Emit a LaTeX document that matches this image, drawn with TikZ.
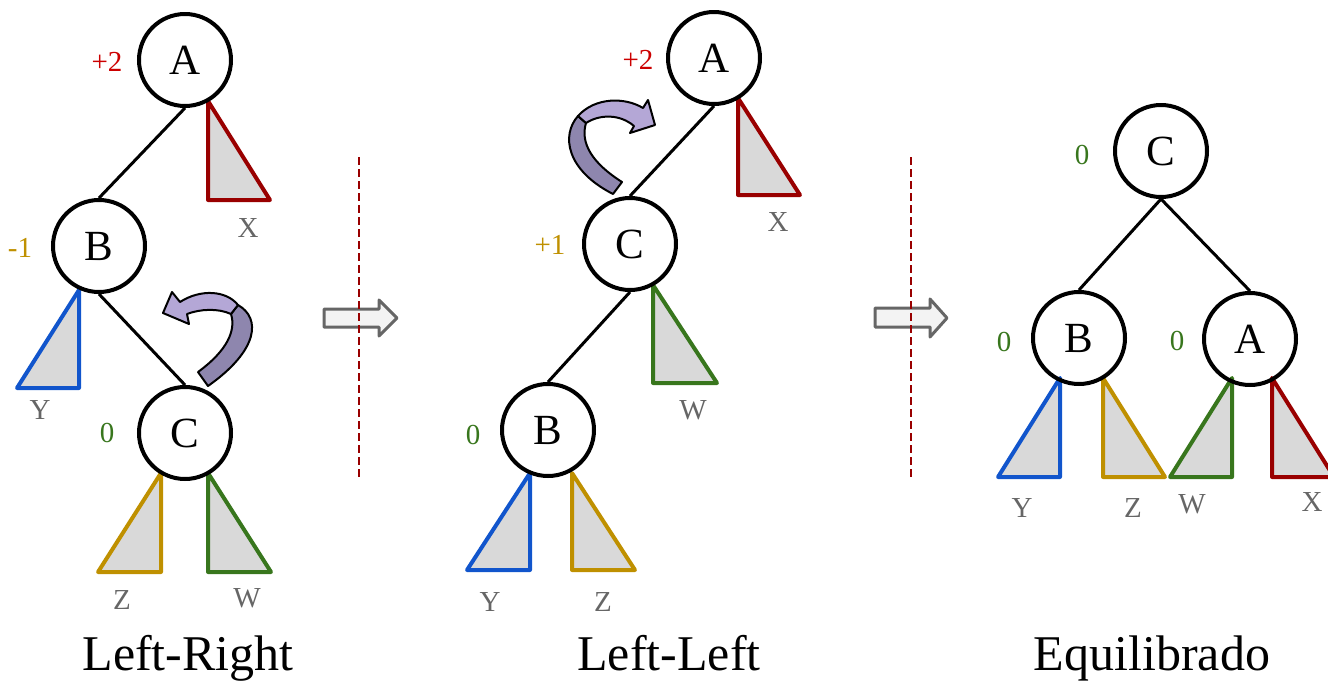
\documentclass[tikz,border=0pt]{standalone}
\usepackage{fontspec}
\setmainfont{Liberation Serif}
\definecolor{triRed}{HTML}{990000}
\definecolor{balRed}{HTML}{CC0000}
\definecolor{gold}{HTML}{BF9000}
\definecolor{grn}{HTML}{38761D}
\definecolor{blu}{HTML}{1155CC}
\definecolor{triFill}{HTML}{D9D9D9}
\definecolor{labGray}{HTML}{666666}
\definecolor{arrFill}{HTML}{F3F3F3}
\definecolor{arrGray}{HTML}{666666}
\definecolor{sepRed}{HTML}{990000}
\definecolor{purpL}{HTML}{B4A7D6}
\definecolor{purpD}{HTML}{8E86AE}
\begin{document}
\begin{tikzpicture}[x=0.5pt,y=-0.5pt,
  tnode/.style={circle,draw=black,line width=2pt,minimum size=46pt,inner sep=0pt,font=\fontsize{21.5}{25}\selectfont},
  link/.style={line width=1.5pt},
  tri/.style={line width=2pt,line join=round,fill=triFill},
  balfac/.style={inner sep=0pt,font=\fontsize{14.5}{17}\selectfont},
  sublabel/.style={inner sep=0pt,text=labGray,font=\fontsize{14.5}{17}\selectfont},
  captxt/.style={inner sep=0pt,anchor=base,font=\fontsize{25}{30}\selectfont},
  blockarrow/.style={draw=arrGray,fill=arrFill,line width=1.5pt,line join=round},
  divider/.style={draw=sepRed,line width=1pt,dash pattern=on 4pt off 2pt},
  curvelight/.style={fill=purpL,draw=black,line width=1pt,line join=round},
  curvedark/.style={fill=purpD,draw=black,line width=1pt,line join=round}
]
\useasboundingbox (0,0) rectangle (1328,681);

% ---------- Left tree (Left-Right) ----------
\draw[tri,draw=triRed] (208,101) -- (208,200) -- (270,200) -- cycle;
\draw[tri,draw=blu] (79,290) -- (17,388) -- (79,388) -- cycle;
\draw[tri,draw=gold] (161,473) -- (98,572) -- (161,572) -- cycle;
\draw[tri,draw=grn] (208,473) -- (208,572) -- (271,572) -- cycle;

\node[tnode] (A1) at (185,60) {A};
\node[tnode] (B1) at (99,246) {B};
\node[tnode] (C1) at (185,433) {C};
\draw[link] (A1.south) -- (B1.north);
\draw[link] (B1.south) -- (C1.north);

\node[balfac,text=balRed] (bA1) at (107,62) {+2};
\node[balfac,text=gold] (bB1) at (20,248) {-1};
\node[balfac,text=grn] (bC1) at (107,433) {0};
\node[sublabel] (X1) at (248,228) {X};
\node[sublabel] (Y1) at (40,410) {Y};
\node[sublabel] (Z1) at (122,600) {Z};
\node[sublabel] (W1) at (247,598) {W};

\draw[curvedark] (238,305) .. controls (261,318) and (259,350) .. (208,386) -- (198,372) .. controls (228,350) and (236,330) .. (231,314) -- cycle;
\draw[curvelight] (163,313) -- (172,292) -- (180,302) .. controls (200,289) and (226,290) .. (238,305) -- (231,314) .. controls (218,308) and (200,309) .. (187,314) -- (189,324) -- cycle;

% ---------- Middle tree (Left-Left) ----------
\draw[tri,draw=triRed] (738,98) -- (738,195) -- (800,195) -- cycle;
\draw[tri,draw=grn] (653,285) -- (653,383) -- (717,383) -- cycle;
\draw[tri,draw=blu] (530,473) -- (467,570) -- (530,570) -- cycle;
\draw[tri,draw=gold] (572,473) -- (572,570) -- (635,570) -- cycle;

\node[tnode] (A2) at (714,58) {A};
\node[tnode] (C2) at (630,244) {C};
\node[tnode] (B2) at (548,430) {B};
\draw[link] (A2.south) -- (C2.north);
\draw[link] (C2.south) -- (B2.north);

\node[balfac,text=balRed] (bA2) at (638,60) {+2};
\node[balfac,text=gold] (bC2) at (550,245) {+1};
\node[balfac,text=grn] (bB2) at (473,435) {0};
\node[sublabel] (X2) at (778,222) {X};
\node[sublabel] (W2) at (693,410) {W};
\node[sublabel] (Y2) at (490,602) {Y};
\node[sublabel] (Z2) at (603,602) {Z};

\draw[curvedark] (578,116) .. controls (561,135) and (566,170) .. (613,194) -- (622,182) .. controls (592,163) and (580,143) .. (586,123) -- cycle;
\draw[curvelight] (655,125) -- (630,133) -- (634,126) .. controls (620,114) and (600,114) .. (586,123) -- (578,116) .. controls (595,97) and (625,97) .. (643,108) -- (648,100) -- cycle;

% ---------- Right tree (Equilibrado) ----------
\draw[tri,draw=blu] (1060,378) -- (998,477) -- (1060,477) -- cycle;
\draw[tri,draw=gold] (1103,378) -- (1103,477) -- (1165,477) -- cycle;
\draw[tri,draw=grn] (1232,378) -- (1170,477) -- (1232,477) -- cycle;
\draw[tri,draw=triRed] (1272,378) -- (1272,477) -- (1334,477) -- cycle;

\node[tnode] (C3) at (1161,151) {C};
\node[tnode] (B3) at (1079,338) {B};
\node[tnode] (A3) at (1250,339) {A};
\draw[link] (C3.south) -- (B3.north);
\draw[link] (C3.south) -- (A3.north);

\node[balfac,text=grn] (bC3) at (1082,155) {0};
\node[balfac,text=grn] (bB3) at (1004,342) {0};
\node[balfac,text=grn] (bA3) at (1177,341) {0};
\node[sublabel] (Y3) at (1022,508) {Y};
\node[sublabel] (Z3) at (1133,508) {Z};
\node[sublabel] (W3) at (1192,504) {W};
\node[sublabel] (X3) at (1312,502) {X};

% ---------- block arrows and dividers ----------
\draw[blockarrow] (324,309) -- (379,309) -- (379,300) -- (397,318) -- (379,336) -- (379,327) -- (324,327) -- cycle;
\draw[blockarrow] (875,308) -- (930,308) -- (930,299) -- (947,318) -- (930,337) -- (930,327) -- (875,327) -- cycle;
\coordinate (d1t) at (359,157);
\coordinate (d1b) at (359,480);
\coordinate (d2t) at (911,157);
\coordinate (d2b) at (911,480);
\draw[divider] (d1t) -- (d1b);
\draw[divider] (d2t) -- (d2b);

% ---------- captions ----------
\node[captxt] (cap1) at (188,670) {Left-Right};
\node[captxt] (cap2) at (669,670) {Left-Left};
\node[captxt] (cap3) at (1152,670) {Equilibrado};
\end{tikzpicture}
\end{document}
